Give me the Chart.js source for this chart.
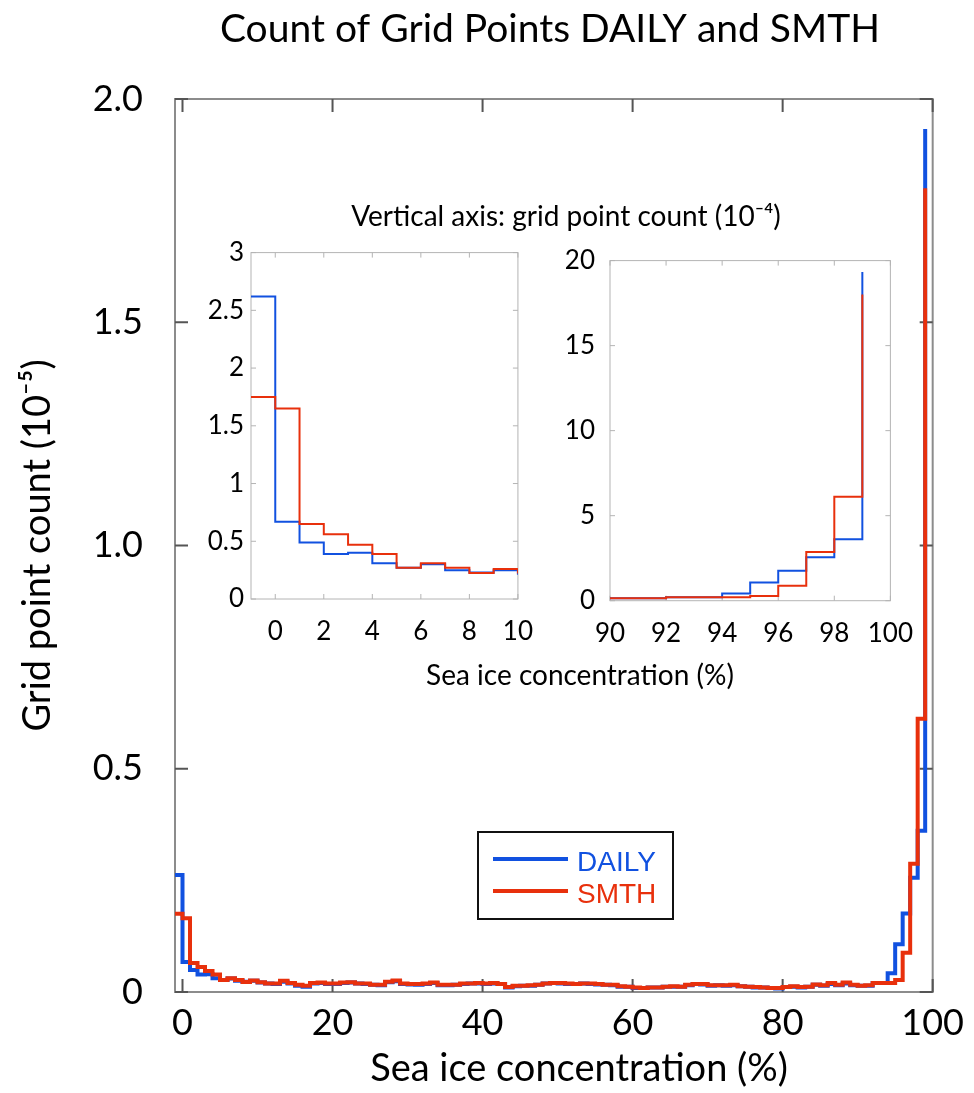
<!DOCTYPE html>
<html>
<head>
<meta charset="utf-8">
<script src="https://cdn.jsdelivr.net/npm/chart.js@4.4.1/dist/chart.umd.min.js"></script>
<style>
  body { margin: 0; background: #fff; }
  #wrap { position: relative; width: 974px; height: 1093px; }
  #wrap canvas { position: absolute; }
</style>
</head>
<body>
<div id="wrap">
  <canvas id="mainChart" width="974" height="1093" style="left:0;top:0;width:974px;height:1093px"></canvas>
  <canvas id="lowChart" width="360" height="420" style="left:190px;top:230px;width:360px;height:420px"></canvas>
  <canvas id="highChart" width="380" height="420" style="left:550px;top:230px;width:380px;height:420px"></canvas>
</div>
<script>
// left edge of each 1% bin (last one is the 99-100 spike)
const binStart = [
  -1, 0, 1, 2, 3, 4, 5, 6, 7, 8, 9,
  10, 11, 12, 13, 14, 15, 16, 17, 18, 19,
  20, 21, 22, 23, 24, 25, 26, 27, 28, 29,
  30, 31, 32, 33, 34, 35, 36, 37, 38, 39,
  40, 41, 42, 43, 44, 45, 46, 47, 48, 49,
  50, 51, 52, 53, 54, 55, 56, 57, 58, 59,
  60, 61, 62, 63, 64, 65, 66, 67, 68, 69,
  70, 71, 72, 73, 74, 75, 76, 77, 78, 79,
  80, 81, 82, 83, 84, 85, 86, 87, 88, 89,
  90, 91, 92, 93, 94, 95, 96, 97, 98, 99
];

// grid point count, units of 1e-5
const daily = [
  0.262, 0.067, 0.049, 0.039, 0.040, 0.031, 0.027, 0.030, 0.025, 0.023, 0.025,
  0.021, 0.019, 0.018, 0.023, 0.019, 0.014, 0.012, 0.019, 0.020, 0.018,
  0.018, 0.020, 0.021, 0.019, 0.018, 0.016, 0.015, 0.022, 0.024, 0.018,
  0.017, 0.016, 0.018, 0.020, 0.015, 0.015, 0.016, 0.018, 0.019, 0.019,
  0.018, 0.019, 0.018, 0.010, 0.013, 0.014, 0.014, 0.016, 0.019, 0.020,
  0.019, 0.018, 0.018, 0.019, 0.018, 0.017, 0.016, 0.015, 0.012, 0.012,
  0.009, 0.009, 0.010, 0.010, 0.012, 0.012, 0.012, 0.015, 0.018, 0.017,
  0.014, 0.015, 0.014, 0.015, 0.013, 0.012, 0.010, 0.010, 0.009, 0.008,
  0.011, 0.012, 0.010, 0.012, 0.016, 0.014, 0.018, 0.015, 0.019, 0.015,
  0.014, 0.014, 0.020, 0.020, 0.042, 0.107, 0.176, 0.256, 0.361, 1.933
];
const smth = [
  0.175, 0.165, 0.065, 0.056, 0.047, 0.039, 0.027, 0.031, 0.027, 0.0225, 0.026,
  0.022, 0.019, 0.019, 0.025, 0.020, 0.016, 0.014, 0.020, 0.021, 0.019,
  0.019, 0.021, 0.022, 0.019, 0.019, 0.016, 0.016, 0.023, 0.026, 0.019,
  0.018, 0.018, 0.019, 0.021, 0.016, 0.016, 0.016, 0.019, 0.019, 0.020,
  0.019, 0.020, 0.018, 0.011, 0.014, 0.014, 0.015, 0.016, 0.019, 0.020,
  0.020, 0.019, 0.018, 0.019, 0.019, 0.018, 0.016, 0.016, 0.013, 0.012,
  0.010, 0.009, 0.010, 0.010, 0.012, 0.013, 0.012, 0.016, 0.018, 0.018,
  0.015, 0.015, 0.015, 0.016, 0.013, 0.012, 0.011, 0.010, 0.009, 0.009,
  0.011, 0.013, 0.011, 0.012, 0.017, 0.015, 0.020, 0.016, 0.021, 0.016,
  0.014, 0.015, 0.020, 0.020, 0.020, 0.027, 0.088, 0.287, 0.612, 1.800
];

const mainXTicks = [0, 20, 40, 60, 80, 100];
const mainYTicks = [0, 0.5, 1.0, 1.5, 2.0];
const lowXTicks = [0, 2, 4, 6, 8, 10];
const lowYTicks = [0, 0.5, 1, 1.5, 2, 2.5, 3];
const highXTicks = [90, 92, 94, 96, 98, 100];
const highYTicks = [0, 5, 10, 15, 20];

const BLUE = '#1151e0';
const RED = '#e8300c';
const FONT = 'Lato, "Open Sans", sans-serif';

function points(vals, from, to, scale) {
  const out = [];
  for (let i = from; i <= to; i++) out.push({ x: binStart[i], y: vals[i] * scale });
  return out;
}

// box around the plot with inward tick marks on all four sides
const framePlugin = {
  id: 'frame',
  beforeDatasetsDraw(chart, args, opts) {
    const { ctx, chartArea: a, scales: { x, y } } = chart;
    ctx.save();
    ctx.strokeStyle = opts.color;
    ctx.lineWidth = opts.width;
    ctx.strokeRect(a.left, a.top, a.right - a.left, a.bottom - a.top);
    ctx.strokeStyle = opts.tickColor;
    ctx.beginPath();
    x.ticks.forEach(t => {
      const px = x.getPixelForValue(t.value);
      ctx.moveTo(px, a.bottom); ctx.lineTo(px, a.bottom - opts.tick);
      ctx.moveTo(px, a.top); ctx.lineTo(px, a.top + opts.tick);
    });
    y.ticks.forEach(t => {
      const py = y.getPixelForValue(t.value);
      ctx.moveTo(a.left, py); ctx.lineTo(a.left + opts.tick, py);
      ctx.moveTo(a.right, py); ctx.lineTo(a.right - opts.tick, py);
    });
    ctx.stroke();
    ctx.restore();
  }
};

// title, x-axis title, inset captions and the boxed legend
const textPlugin = {
  id: 'texts',
  afterDraw(chart) {
    const ctx = chart.ctx;
    ctx.save();
    ctx.fillStyle = '#000';
    ctx.textAlign = 'center';
    ctx.textBaseline = 'middle';
    ctx.font = '39px ' + FONT;
    ctx.fillText('Count of Grid Points DAILY and SMTH', 550, 29);
    ctx.font = '38px ' + FONT;
    ctx.fillText('Sea ice concentration (%)', 579, 1069);
    ctx.font = '28px ' + FONT;
    ctx.fillText('Vertical axis: grid point count (10\u207B\u2074)', 566, 217);
    ctx.fillText('Sea ice concentration (%)', 580, 676);

    ctx.strokeStyle = '#111';
    ctx.lineWidth = 2;
    ctx.strokeRect(478, 832, 195, 87);
    const rows = [859, 891];
    chart.data.datasets.forEach((ds, i) => {
      ctx.strokeStyle = ds.borderColor;
      ctx.lineWidth = 4;
      ctx.beginPath();
      ctx.moveTo(493, rows[i]);
      ctx.lineTo(568, rows[i]);
      ctx.stroke();
      ctx.fillStyle = ds.borderColor;
      ctx.textAlign = 'left';
      ctx.textBaseline = 'alphabetic';
      ctx.font = '28px "Liberation Sans", Arial, sans-serif';
      ctx.fillText(ds.label, 577, rows[i] + 12);
    });
    ctx.restore();
  }
};

function makeChart(id, cfg) {
  return new Chart(document.getElementById(id), {
    type: 'line',
    data: {
      datasets: [
        { label: 'DAILY', data: cfg.daily, borderColor: BLUE, borderWidth: cfg.lw, stepped: true, pointRadius: 0, fill: false, order: 2 },
        { label: 'SMTH', data: cfg.smth, borderColor: RED, borderWidth: cfg.lw, stepped: true, pointRadius: 0, fill: false, order: 1 }
      ]
    },
    options: {
      responsive: false,
      animation: false,
      events: [],
      layout: { padding: cfg.padding },
      plugins: {
        legend: { display: false },
        tooltip: { enabled: false },
        frame: cfg.frame
      },
      scales: {
        x: {
          type: 'linear', min: cfg.xMin, max: cfg.xMax,
          afterBuildTicks: s => { s.ticks = cfg.xTicks.map(v => ({ value: v })); },
          afterFit: s => { s.height = cfg.xHeight; },
          grid: { display: false, drawTicks: false },
          border: { display: false },
          ticks: { color: '#000', font: { family: FONT, size: cfg.tickSize }, padding: cfg.xPad, maxRotation: 0, autoSkip: false },
          title: { display: false }
        },
        y: {
          min: cfg.yMin, max: cfg.yMax,
          afterBuildTicks: s => { s.ticks = cfg.yTicks.map(v => ({ value: v })); },
          afterFit: s => { s.width = cfg.yWidth; },
          grid: { display: false, drawTicks: false },
          border: { display: false },
          ticks: { color: '#000', font: { family: FONT, size: cfg.tickSize }, padding: cfg.yPad, callback: cfg.yFmt || (v => String(v)) },
          title: cfg.yTitle || { display: false }
        }
      }
    },
    plugins: cfg.plugins
  });
}

makeChart('mainChart', {
  daily: points(daily, 0, 100, 1),
  smth: points(smth, 0, 100, 1),
  lw: 4,
  padding: { top: 99, right: 23, left: 0, bottom: 0 },
  xMin: -1, xMax: 100, xTicks: mainXTicks, xHeight: 101, xPad: 10,
  yMin: 0, yMax: 2, yTicks: mainYTicks, yWidth: 175, yPad: 32,
  yFmt: v => (v === 0 ? '0' : v.toFixed(1)),
  tickSize: 36,
  yTitle: { display: true, text: 'Grid point count (10\u207B\u2075)', color: '#000', font: { family: FONT, size: 38 }, padding: { top: 15, bottom: 0 } },
  frame: { color: '#8c8c8c', tickColor: '#555', width: 2, tick: 13 },
  plugins: [framePlugin, textPlugin]
});

makeChart('lowChart', {
  daily: points(daily, 0, 11, 10),
  smth: points(smth, 0, 11, 10),
  lw: 2,
  padding: { top: 18, right: 9.5, left: 0, bottom: 0 },
  xMin: -1, xMax: 10, xTicks: lowXTicks, xHeight: 51, xPad: 17,
  yMin: 0, yMax: 3, yTicks: lowYTicks, yWidth: 61, yPad: 7,
  tickSize: 26,
  frame: { color: '#b4b4b4', tickColor: '#b4b4b4', width: 1, tick: 5 },
  plugins: [framePlugin]
});

makeChart('highChart', {
  daily: points(daily, 91, 100, 10),
  smth: points(smth, 91, 100, 10),
  lw: 2,
  padding: { top: 22, right: 28.3, left: 0, bottom: 0 },
  xMin: 90, xMax: 100, xTicks: highXTicks, xHeight: 49.3, xPad: 17,
  yMin: 0, yMax: 20, yTicks: highYTicks, yWidth: 60, yPad: 15,
  tickSize: 26,
  frame: { color: '#b4b4b4', tickColor: '#b4b4b4', width: 1, tick: 5 },
  plugins: [framePlugin]
});
</script>
</body>
</html>
